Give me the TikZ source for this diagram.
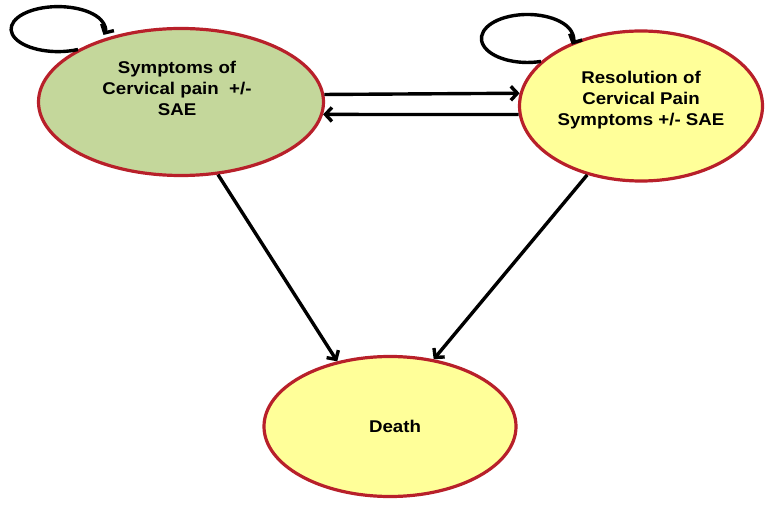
\documentclass[tikz,border=0pt]{standalone}
\usepackage{fontspec}
\usetikzlibrary{shapes.geometric, arrows.meta}
\newfontfamily\statefont[FakeStretch=1.1]{Liberation Sans}
\definecolor{stategreen}{HTML}{C4D79B}
\definecolor{stateyellow}{HTML}{FFFF99}
\definecolor{statered}{HTML}{B8202A}

\begin{document}
\begin{tikzpicture}[x=1pt, y=1pt,
    state/.style={ellipse, draw=statered, line width=3.2pt, inner sep=0pt},
    statetext/.style={font=\statefont\bfseries\fontsize{17}{21}\selectfont, align=center},
    trans/.style={line width=3.4pt, -{Straight Barb[length=6.5pt,width=14pt]}}]
    % Page
    \useasboundingbox (0,0) rectangle (767,506);

    % States
    \node[state, fill=stategreen, minimum width=285pt, minimum height=147pt,
          label={[statetext, xshift=-4pt, yshift=14pt]center:{Symptoms of\\Cervical pain\ \ +/-\\SAE}}] (pain) at (181,404) {};
    \node[state, fill=stateyellow, minimum width=243pt, minimum height=150pt,
          label={[statetext, yshift=6pt]center:{Resolution of\\Cervical Pain\\Symptoms +/- SAE}}] (resol) at (641,400) {};
    \node[state, fill=stateyellow, minimum width=252pt, minimum height=140pt,
          label={[statetext, xshift=5pt]center:{Death}}] (death) at (390,79.5) {};

    % Self loops
    \draw[trans] (pain.153) arc[start angle=-65, end angle=-375, x radius=47, y radius=22.5];
    \draw[trans] (resol.156) arc[start angle=-73, end angle=-375, x radius=46, y radius=24];

    % Transitions between states
    \draw[trans] (pain.3) -- (resol.174);
    \draw[trans] (resol.184) -- (pain.355);
    \draw[trans] (pain.-63) -- (death.129);
    \draw[trans] (resol.232) -- (death.57);
\end{tikzpicture}
\end{document}
